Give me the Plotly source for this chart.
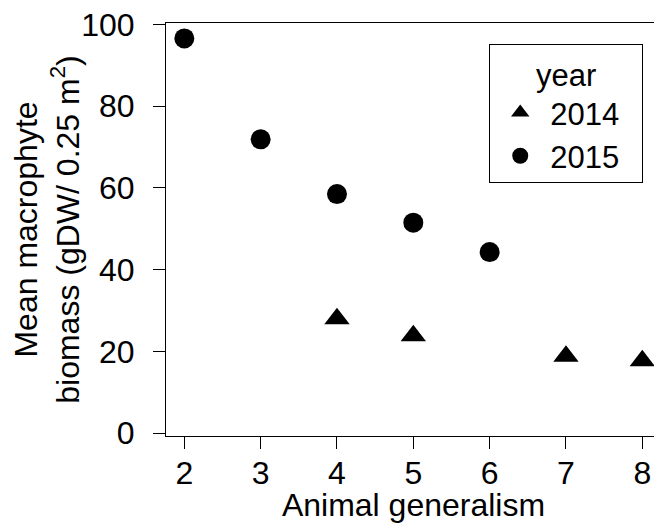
import plotly.graph_objects as go

x_2014 = [4, 5, 7, 8]
y_2014 = [28.0, 23.8, 18.8, 17.7]
x_2015 = [2, 3, 4, 5, 6]
y_2015 = [96.6, 71.9, 58.5, 51.5, 44.3]
x_ticks = [2, 3, 4, 5, 6, 7, 8]
y_ticks = [0, 20, 40, 60, 80, 100]

FONT = "Liberation Sans, Arial, Helvetica, sans-serif"

fig = go.Figure()
fig.add_trace(go.Scatter(x=x_2014, y=y_2014, mode="markers", name="2014\u00a0\u00a0",
                         marker=dict(symbol="triangle-up", size=22, color="black")))
fig.add_trace(go.Scatter(x=x_2015, y=y_2015, mode="markers", name="2015\u00a0\u00a0",
                         marker=dict(symbol="circle", size=20, color="black")))

# page body has an 8px margin; figure is sized/offset to fill the 662x523 window
fig.update_layout(
    width=654, height=515,
    margin=dict(l=158, r=1, t=15, b=87, autoexpand=False),
    plot_bgcolor="white", paper_bgcolor="white",
    font=dict(family=FONT, size=32, color="black"),
    showlegend=True,
    legend=dict(
        x=0.653, y=0.948, xanchor="left", yanchor="top",
        bordercolor="black", borderwidth=1, bgcolor="white",
        font=dict(size=31), itemwidth=50,
        title=dict(text="year", side="top center", font=dict(size=31)),
    ),
    xaxis=dict(
        range=[1.76, 8.245], tickvals=x_ticks, ticktext=[str(v) for v in x_ticks],
        showline=True, mirror=True, linecolor="black", linewidth=1,
        ticks="outside", ticklen=12, tickcolor="black", tickwidth=1,
        showgrid=False, zeroline=False, ticklabeloverflow="allow",
        tickfont=dict(size=32), ticklabelstandoff=-3,
        title=dict(text="Animal generalism", font=dict(size=32), standoff=15),
    ),
    yaxis=dict(
        range=[-0.73, 100.38], tickvals=y_ticks, ticktext=[str(v) for v in y_ticks],
        showline=True, mirror=True, linecolor="black", linewidth=1,
        ticks="outside", ticklen=12, tickcolor="black", tickwidth=1,
        showgrid=False, zeroline=False, ticklabeloverflow="allow",
        tickfont=dict(size=32), ticklabelstandoff=12,
        title=dict(text="Mean macrophyte<br>biomass (gDW/ 0.25 m<sup>2</sup>)",
                   font=dict(size=32), standoff=3),
    ),
)

fig.write_html("out.html")
